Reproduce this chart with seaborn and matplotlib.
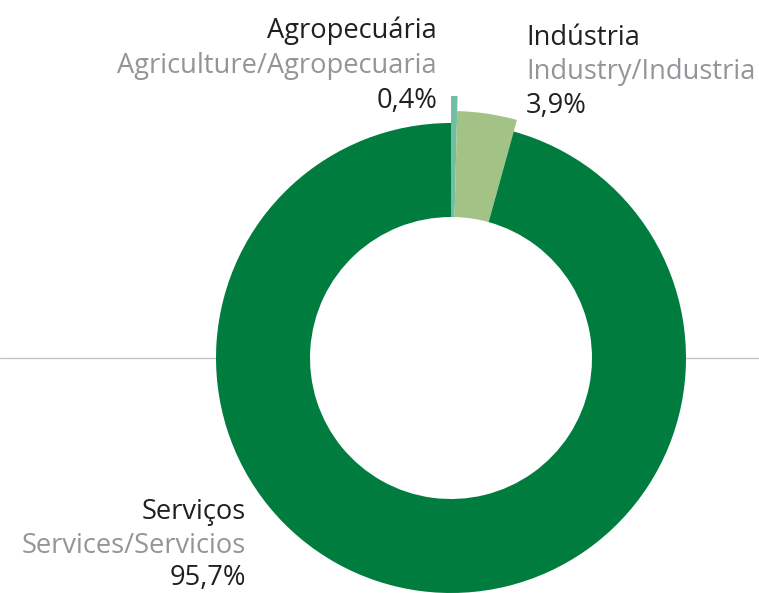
import matplotlib
matplotlib.use("Agg")
import matplotlib.pyplot as plt
import seaborn as sns

# ---- data ----
categories_pt = ["Agropecuária", "Indústria", "Serviços"]
categories_en = ["Agriculture/Agropecuaria", "Industry/Industria", "Services/Servicios"]
values = [0.4, 3.9, 95.7]
value_labels = ["0,4%", "3,9%", "95,7%"]

sns.set_theme(style="white")
plt.rcParams['font.family'] = ['Open Sans', 'DejaVu Sans']

W, H = 759, 593
fig = plt.figure(figsize=(W / 100, H / 100), dpi=100)
ax = fig.add_axes([0, 0, 1, 1])

colors = ["#6fbfa3", "#a3c285", "#007d3e"]
cx, cy_px = 451, 358
cy = H - cy_px
R_in = 141
R_out = [262, 247, 235]

wedges, _ = ax.pie(values, startangle=90, counterclock=False, colors=colors,
                   radius=R_out[2], center=(cx, cy), frame=True,
                   wedgeprops=dict(width=R_out[2] - R_in, linewidth=0))
for w, ro in zip(wedges, R_out):
    w.set_radius(ro)
    w.set_width(ro - R_in)
    w.set_zorder(3)

# grey horizontal rule (outside donut)
ax.plot([0, cx - R_out[2]], [cy, cy], color="#c4c4c4", lw=1, zorder=1)
ax.plot([cx + R_out[2], W], [cy, cy], color="#c4c4c4", lw=1, zorder=1)

ax.set_xlim(0, W)
ax.set_ylim(0, H)
ax.set_aspect("equal")
ax.axis("off")

dark, grey = "#231f20", "#939598"
fs = 19.6
label_pos = [(437, [31, 66, 101], "right"),
             (526, [38, 72, 106], "left"),
             (246, [512, 546, 578], "right")]
for i, (x, ys, ha) in enumerate(label_pos):
    ax.text(x, H - ys[0], categories_pt[i], color=dark, fontsize=fs, ha=ha, va="center")
    ax.text(x, H - ys[1], categories_en[i], color=grey, fontsize=fs, ha=ha, va="center")
    ax.text(x, H - ys[2], value_labels[i], color=dark, fontsize=fs, ha=ha, va="center")

fig.savefig("out.png", dpi=100)
